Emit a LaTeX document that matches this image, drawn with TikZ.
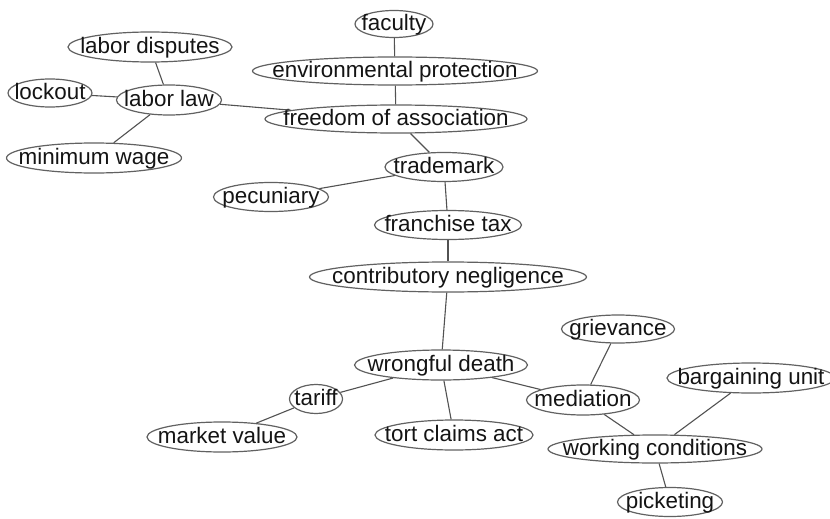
\documentclass[tikz,border=0pt]{standalone}
\usepackage{fontspec}
\setmainfont{Liberation Sans}
% zero-size label box so the ellipse size is set only by minimum width/height
\newcommand{\nt}[1]{\makebox[0pt][c]{\raisebox{-0.31em}[0pt][0pt]{#1}}}
\tikzset{
  term/.style={ellipse, draw=black!62, line width=1.2pt, fill=white,
    inner sep=0pt, text=black!92, font=\fontsize{22.4}{22.4}\selectfont},
  link/.style={draw=black!68, line width=1.1pt}
}
\usetikzlibrary{shapes.geometric}
\begin{document}
\begin{tikzpicture}[x=1pt,y=-1pt]
\useasboundingbox[fill=white] (0,0) rectangle (830,519);

\node[term, minimum width=78, minimum height=27] (fac) at (394,24) {\nt{faculty}};
\node[term, minimum width=285, minimum height=28] (env) at (395,71) {\nt{environmental protection}};
\node[term, minimum width=262, minimum height=28] (free) at (396,119) {\nt{freedom of association}};
\node[term, minimum width=164, minimum height=30] (disp) at (150,47) {\nt{labor disputes}};
\node[term, minimum width=84, minimum height=28] (lock) at (50,93) {\nt{lockout}};
\node[term, minimum width=105, minimum height=30] (law) at (169,100) {\nt{labor law}};
\node[term, minimum width=175, minimum height=30] (minw) at (94,158) {\nt{minimum wage}};
\node[term, minimum width=118, minimum height=29] (trade) at (444,167) {\nt{trademark}};
\node[term, minimum width=115, minimum height=29] (pecu) at (271,197) {\nt{pecuniary}};
\node[term, minimum width=147, minimum height=29] (fran) at (448,225) {\nt{franchise tax}};
\node[term, minimum width=277, minimum height=30] (contr) at (448,277) {\nt{contributory negligence}};
\node[term, minimum width=173, minimum height=30] (wrong) at (441,365) {\nt{wrongful death}};
\node[term, minimum width=53, minimum height=29] (tar) at (316,399) {\nt{tariff}};
\node[term, minimum width=150, minimum height=30] (mkt) at (222,437) {\nt{market value}};
\node[term, minimum width=158, minimum height=30] (tort) at (454,435) {\nt{tort claims act}};
\node[term, minimum width=113, minimum height=28] (grie) at (618,329) {\nt{grievance}};
\node[term, minimum width=168, minimum height=30] (barg) at (751,378) {\nt{bargaining unit}};
\node[term, minimum width=113, minimum height=30] (med) at (583,400) {\nt{mediation}};
\node[term, minimum width=214, minimum height=28] (work) at (655,449) {\nt{working conditions}};
\node[term, minimum width=105, minimum height=29] (pick) at (670,502) {\nt{picketing}};

\draw[link] (fac) -- (env);
\draw[link] (env) -- (free);
\draw[link] (law) -- (free);
\draw[link] (disp) -- (law);
\draw[link] (lock) -- (law);
\draw[link] (minw) -- (law);
\draw[link] (free) -- (trade);
\draw[link] (trade) -- (pecu);
\draw[link] (trade) -- (fran);
\draw[link] (fran) -- (contr);
\draw[link] (contr) -- (wrong);
\draw[link] (wrong) -- (tar);
\draw[link] (tar) -- (mkt);
\draw[link] (wrong) -- (tort);
\draw[link] (wrong) -- (med);
\draw[link] (grie) -- (med);
\draw[link] (med) -- (work);
\draw[link] (barg) -- (work);
\draw[link] (work) -- (pick);
\end{tikzpicture}
\end{document}
